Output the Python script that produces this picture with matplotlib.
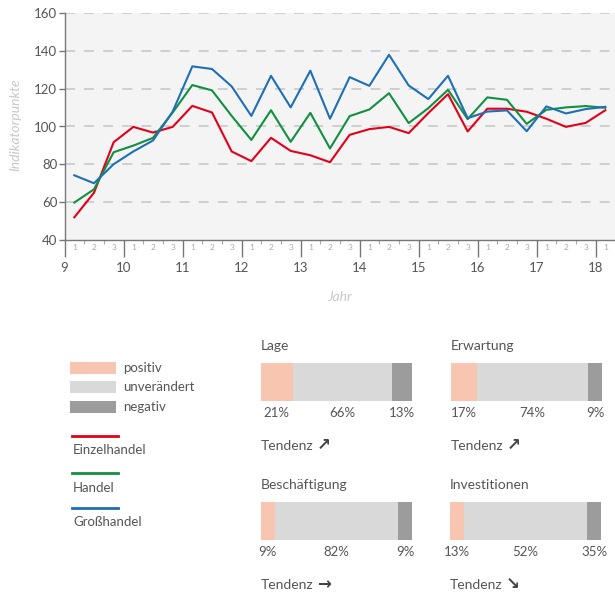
import matplotlib.pyplot as plt
import matplotlib.patches as mpatches

plt.rcParams['font.family'] = ['Lato', 'DejaVu Sans']

# Daten Liniendiagramm (Tertiale 2009 - 2018)
jahre = list(range(9, 19))
tertiale = ['1', '2', '3']
einzelhandel = [52, 65, 91.7, 99.8, 96.8, 99.8, 110.9, 107.4, 86.8, 81.7, 94, 87.1, 84.8, 81.1,
                95.6, 98.6, 99.8, 96.5, 107.1, 117.1, 97.4, 109.4, 109.4, 107.8, 104.1, 99.8, 101.9, 108.6]
handel = [59.8, 66.8, 86.4, 89.9, 94, 107.4, 121.9, 119.1, 105.6, 92.9, 108.6, 91.9, 107.2, 88.4,
          105.5, 109, 117.6, 101.8, 109.7, 119.4, 103.9, 115.4, 114.1, 101.4, 108.8, 110.1, 110.8, 109.9]
grosshandel = [74.2, 70, 80.1, 86.8, 92.6, 107.9, 131.8, 130.4, 121.2, 105.6, 126.8, 110.1, 129.5, 104.1,
               126.1, 121.5, 137.9, 121.7, 114.5, 126.8, 104.4, 107.9, 108.5, 97.5, 110.6, 106.9, 109.2, 110.4]

# Daten Balken
panel_titel = ['Lage', 'Erwartung', 'Beschäftigung', 'Investitionen']
panel_prozent = [[21, 66, 13], [17, 74, 9], [9, 82, 9], [13, 52, 35]]
# Balkenbreiten wie im Original gezeichnet
panel_balken = [[21, 66, 13], [17, 74, 9], [9, 82, 9], [9, 82, 9]]
panel_tendenz = ['↗', '↗', '→', '↘']
legende_balken = ['positiv', 'unverändert', 'negativ']
legende_linien = ['Einzelhandel', 'Handel', 'Großhandel']

farben_linien = ['#e2001a', '#109040', '#1f6fb5']
farben_balken = ['#f7c5b0', '#d9d9d9', '#9c9c9c']
textfarbe = '#555555'

W, H = 615, 595
fig = plt.figure(figsize=(W / 100, H / 100), dpi=100)

# Hintergrund-Achse in Pixelkoordinaten
bg = fig.add_axes([0, 0, 1, 1])
bg.set_xlim(0, W)
bg.set_ylim(H, 0)
bg.axis('off')

# Liniendiagramm
x0_px, x1_px, ytop_px, ybot_px = 64.5, 615, 13, 240
ax = fig.add_axes([x0_px / W, (H - ybot_px) / H, (x1_px - x0_px) / W, (ybot_px - ytop_px) / H])
ax.set_facecolor('#f4f4f4')

zeit = [j + (t - 0.5) / 3 for j in jahre for t in range(1, 4)][:len(einzelhandel)]
for serie, farbe in zip([einzelhandel, handel, grosshandel], farben_linien):
    ax.plot(zeit, serie, color=farbe, lw=1.5, zorder=3)

for y in range(60, 161, 20):
    ax.axhline(y, color='#c4c4c4', lw=1.1, ls=(0, (6.5, 6)), zorder=1)

for s in ['top', 'right']:
    ax.spines[s].set_visible(False)
for s in ['left', 'bottom']:
    ax.spines[s].set_color('#777777')
    ax.spines[s].set_linewidth(1)

ax.set_yticks(range(40, 161, 20))
ax.tick_params(axis='y', length=4.3, width=1, color='#777777', pad=1, labelsize=9.5, labelcolor=textfarbe)
ax.set_xticks(jahre)
ax.set_xticklabels([str(j) for j in jahre])
ax.tick_params(axis='x', length=12, width=1, color='#777777', pad=3.5, labelsize=9.5, labelcolor=textfarbe)
minor = [j + t / 3 for j in jahre for t in (1, 2)]
ax.set_xticks(minor, minor=True)
ax.tick_params(axis='x', which='minor', length=3, width=0.8, color='#aaaaaa')

# Grenzen erst nach den Ticks setzen
xmax = 9 + (x1_px - x0_px) / 59
ax.set_xlim(9, xmax)
ax.set_ylim(40, 160)

for j in jahre:
    for t, lab in enumerate(tertiale):
        xp = j + (t + 0.5) / 3
        if xp < xmax:
            ax.text(xp, -0.033, lab, transform=ax.get_xaxis_transform(), ha='center', va='center',
                    fontsize=6, color='#aaaaaa', clip_on=False)

bg.text(15, 125, 'Indikatorpunkte', rotation=90, ha='center', va='center', fontsize=10,
        style='italic', color='#c8c8c8')
bg.text(340, 297, 'Jahr', ha='center', va='center', fontsize=10, style='italic', color='#c8c8c8')

# Legende
leg_y = [368, 387, 407]
for lab, farbe, y in zip(legende_balken, farben_balken, leg_y):
    bg.add_patch(mpatches.Rectangle((70, y - 6), 46, 12, color=farbe, lw=0))
    bg.text(123, y, lab, ha='left', va='center', fontsize=9.5, color=textfarbe)
lin_y = [436, 473, 508]
for lab, farbe, y in zip(legende_linien, farben_linien, lin_y):
    bg.plot([72, 118], [y, y], color=farbe, lw=2)
    bg.text(73, y + 14.5, lab, ha='left', va='center', fontsize=9.5, color=textfarbe)

# Balken-Panels
panel_pos = [(261, 363), (451, 363), (261, 502), (450, 502)]
bw, bh = 151, 38
for titel, proz, balken, tend, (px, py) in zip(panel_titel, panel_prozent, panel_balken,
                                                panel_tendenz, panel_pos):
    pax = fig.add_axes([px / W, (H - py - bh) / H, bw / W, bh / H])
    pax.set_xlim(0, sum(balken))
    pax.set_ylim(0, 1)
    pax.axis('off')
    links = 0
    for wert, p, farbe in zip(balken, proz, farben_balken):
        pax.barh(0.5, wert, left=links, height=1, color=farbe, lw=0)
        pax.text(links + wert / 2, -0.32, f'{p}%', ha='center', va='center', fontsize=9.5,
                 color=textfarbe, clip_on=False)
        links += wert
    bg.text(px, py - 17, titel, ha='left', va='center', fontsize=10, color=textfarbe)
    bg.text(px, py + 83, 'Tendenz', ha='left', va='center', fontsize=10, color=textfarbe)
    bg.text(px + 56, py + 82, tend, ha='left', va='center', fontsize=12, fontweight='bold',
            color='#444444', family='DejaVu Sans')

fig.savefig('out.png', dpi=100)
